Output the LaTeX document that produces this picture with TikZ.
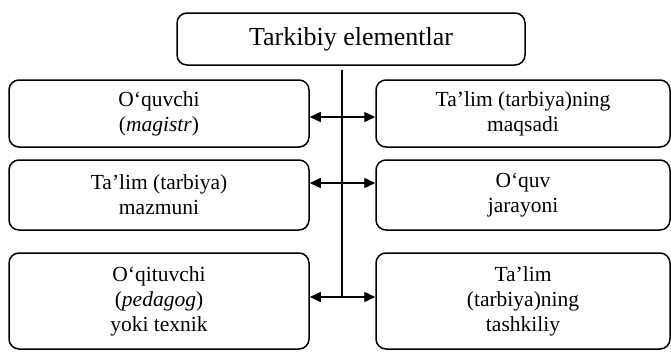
\documentclass[tikz,border=0pt]{standalone}
\usepackage{fontspec}
\setmainfont{Liberation Serif}
\usetikzlibrary{arrows.meta}
\begin{document}
\begin{tikzpicture}[x=1pt,y=-1pt,
  box/.style={draw, rounded corners=10pt, line width=1.5pt, align=center, inner sep=0pt,
    font=\fontsize{21.5}{25}\selectfont},
  lbox/.style={box, minimum width=300pt},
  rbox/.style={box, minimum width=294pt},
  arr/.style={line width=1.4pt, {Triangle[length=11pt,width=10pt]}-{Triangle[length=11pt,width=10pt]}},
  vline/.style={line width=1.2pt}]
\useasboundingbox (0,0) rectangle (671,351);
\node[box, minimum width=348pt, minimum height=52pt, font=\fontsize{26}{30}\selectfont] (top) at (351,39) {Tarkibiy elementlar};
\node[lbox, minimum height=67pt] (l1) at (159,113.5) {O‘quvchi\\(\textit{magistr})};
\node[rbox, minimum height=67pt] (r1) at (523,113.5) {Ta’lim (tarbiya)ning\\maqsadi};
\node[lbox, minimum height=70pt] (l2) at (159,195) {Ta’lim (tarbiya)\\mazmuni};
\node[rbox, minimum height=70pt] (r2) at (523,195) {O‘quv\\jarayoni};
\node[lbox, minimum height=96pt] (l3) at (159,301) {O‘qituvchi\\(\textit{pedagog})\\yoki texnik};
\node[rbox, minimum height=96pt] (r3) at (523,301) {Ta’lim\\(tarbiya)ning\\tashkiliy};
\coordinate (a1) at (342,117);
\coordinate (a2) at (342,183);
\coordinate (a3) at (342,297);
\draw[vline, shorten <=4pt] (top.south -| a3) -- (a3);
\draw[arr] (a1 -| l1.east) -- (a1 -| r1.west);
\draw[arr] (a2 -| l2.east) -- (a2 -| r2.west);
\draw[arr] (a3 -| l3.east) -- (a3 -| r3.west);
\end{tikzpicture}
\end{document}
